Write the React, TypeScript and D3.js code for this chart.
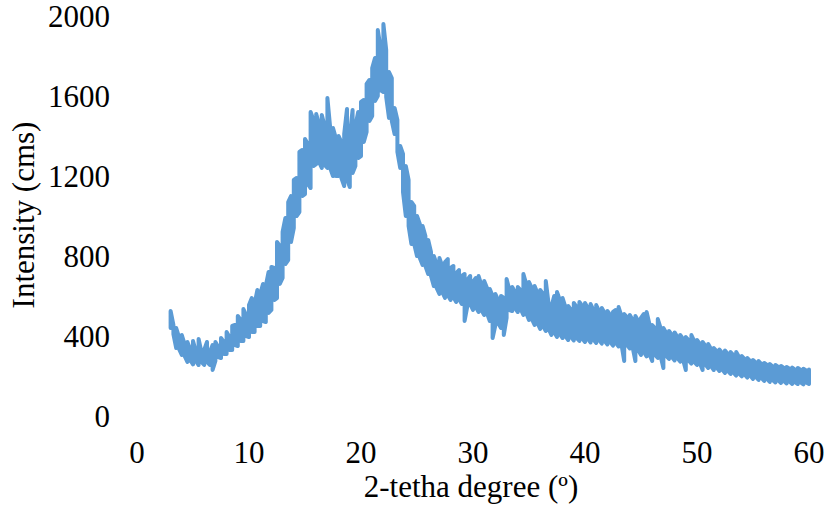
import React, { useEffect, useRef } from 'react';
import * as d3 from 'd3';

// XRD scan: lowest and highest counts in each 0.25 degree bin, 3..60 (2-theta)
const startAngle = 3;
const angleStep = 0.25;
const binMax = [
  525, 455, 440, 395, 405, 360, 370, 335, 375, 325, 385, 320,
  330, 370, 320, 355, 370, 345, 390, 370, 420, 395, 450, 455,
  500, 480, 535, 505, 555, 590, 560, 630, 610, 660, 650, 720,
  745, 740, 870, 850, 920, 990, 1070, 1100, 1180, 1190, 1320, 1330,
  1385, 1360, 1520, 1480, 1510, 1460, 1505, 1450, 1590, 1440, 1440, 1390,
  1400, 1370, 1410, 1535, 1400, 1530, 1450, 1520, 1570, 1580, 1660, 1680,
  1740, 1790, 1930, 1840, 1960, 1830, 1720, 1690, 1540, 1480, 1350, 1310,
  1250, 1180, 1070, 1050, 1000, 960, 950, 900, 880, 820, 800, 760,
  790, 750, 770, 785, 740, 750, 715, 730, 700, 710, 680, 700,
  670, 690, 700, 655, 675, 640, 635, 600, 610, 580, 600, 590,
  685, 630, 645, 620, 645, 630, 710, 660, 670, 640, 650, 615,
  630, 610, 675, 560, 545, 600, 620, 580, 590, 545, 550, 530,
  565, 545, 570, 550, 565, 540, 560, 530, 555, 525, 540, 515,
  525, 505, 520, 530, 545, 500, 510, 495, 505, 480, 500, 475,
  490, 510, 520, 460, 455, 440, 485, 440, 440, 415, 425, 405,
  418, 395, 405, 385, 395, 380, 405, 375, 380, 360, 370, 350,
  360, 335, 340, 325, 332, 315, 328, 310, 320, 305, 320, 295,
  300, 285, 290, 275, 280, 268, 275, 260, 265, 255, 260, 248,
  255, 245, 250, 240, 245, 236, 242, 232, 240, 230, 236, 228,
  232,
];
const binMin = [
  440, 410, 340, 335, 305, 300, 270, 280, 258, 275, 255, 270,
  255, 270, 255, 230, 275, 295, 290, 310, 310, 330, 330, 355,
  350, 375, 375, 400, 395, 420, 420, 450, 450, 475, 470, 515,
  530, 580, 590, 660, 690, 760, 780, 870, 940, 1000, 1020, 1100,
  1110, 1160, 1140, 1250, 1260, 1270, 1240, 1255, 1240, 1240, 1200, 1200,
  1200, 1190, 1150, 1185, 1145, 1215, 1250, 1290, 1300, 1370, 1420, 1475,
  1500, 1575, 1600, 1630, 1620, 1595, 1490, 1475, 1410, 1320, 1240, 1120,
  1000, 950, 860, 860, 800, 790, 755, 750, 710, 700, 650, 640,
  610, 620, 590, 605, 580, 595, 570, 585, 560, 475, 550, 560,
  530, 545, 520, 530, 505, 515, 475, 390, 455, 465, 440, 405,
  490, 530, 525, 540, 520, 535, 505, 515, 480, 485, 455, 465,
  435, 450, 425, 435, 405, 420, 395, 410, 390, 400, 380, 395,
  378, 390, 375, 388, 370, 385, 368, 382, 365, 380, 362, 375,
  358, 370, 352, 365, 348, 360, 275, 355, 338, 345, 275, 330,
  305, 320, 298, 310, 275, 305, 290, 300, 240, 300, 285, 295,
  278, 290, 272, 282, 230, 278, 262, 270, 255, 265, 230, 258,
  240, 250, 230, 242, 225, 232, 215, 225, 210, 218, 202, 212,
  198, 208, 192, 202, 185, 195, 180, 190, 175, 185, 170, 180,
  168, 178, 165, 175, 163, 172, 160, 170, 160, 168, 158, 168,
  160,
];

const xTicks = [0, 10, 20, 30, 40, 50, 60];
const yTicks = [0, 400, 800, 1200, 1600, 2000];

const font = '"Liberation Serif", "Times New Roman", serif';

const XrdChart = ({ width = 827, height = 520 }) => {
  const svgRef = useRef(null);

  useEffect(() => {
    const svg = d3.select(svgRef.current);
    svg.selectAll('*').remove();

    const x = d3.scaleLinear().domain([0, 60]).range([137, 809]);
    const y = d3.scaleLinear().domain([0, 2000]).range([416, 16]);

    // walk each bin low->high / high->low in turn, like a dense scan drawn at screen resolution
    const points = [];
    binMax.forEach((hi, i) => {
      const t = startAngle + i * angleStep;
      const lo = binMin[i];
      if (i % 2 === 0) {
        points.push([t, lo], [t, hi]);
      } else {
        points.push([t, hi], [t, lo]);
      }
    });

    const line = d3.line()
      .x(d => x(d[0]))
      .y(d => y(d[1]));

    svg.append('path')
      .datum(points)
      .attr('d', line)
      .attr('fill', 'none')
      .attr('stroke', '#5B9BD5')
      .attr('stroke-width', 4)
      .attr('stroke-linejoin', 'round')
      .attr('stroke-linecap', 'round');

    // Y tick labels (no axis line in the original)
    svg.append('g')
      .selectAll('text')
      .data(yTicks)
      .join('text')
      .attr('x', 110)
      .attr('y', d => y(d))
      .attr('dy', '0.34em')
      .attr('text-anchor', 'end')
      .style('font-family', font)
      .style('font-size', '31px')
      .attr('fill', '#000')
      .text(d => d);

    // X tick labels
    svg.append('g')
      .selectAll('text')
      .data(xTicks)
      .join('text')
      .attr('x', d => x(d))
      .attr('y', 463)
      .attr('text-anchor', 'middle')
      .style('font-family', font)
      .style('font-size', '31px')
      .attr('fill', '#000')
      .text(d => d);

    svg.append('text')
      .attr('x', 471)
      .attr('y', 497)
      .attr('text-anchor', 'middle')
      .style('font-family', font)
      .style('font-size', '31px')
      .text('2-tetha degree (º)');

    svg.append('text')
      .attr('transform', 'translate(33.5,215) rotate(-90)')
      .attr('text-anchor', 'middle')
      .style('font-family', font)
      .style('font-size', '31px')
      .text('Intensity (cms)');
  }, [width, height]);

  return (
    <svg
      ref={svgRef}
      width={width}
      height={height}
      style={{ position: 'absolute', left: 0, top: 0, background: '#fff' }}
    />
  );
};

export default function App() {
  return <XrdChart />;
}
